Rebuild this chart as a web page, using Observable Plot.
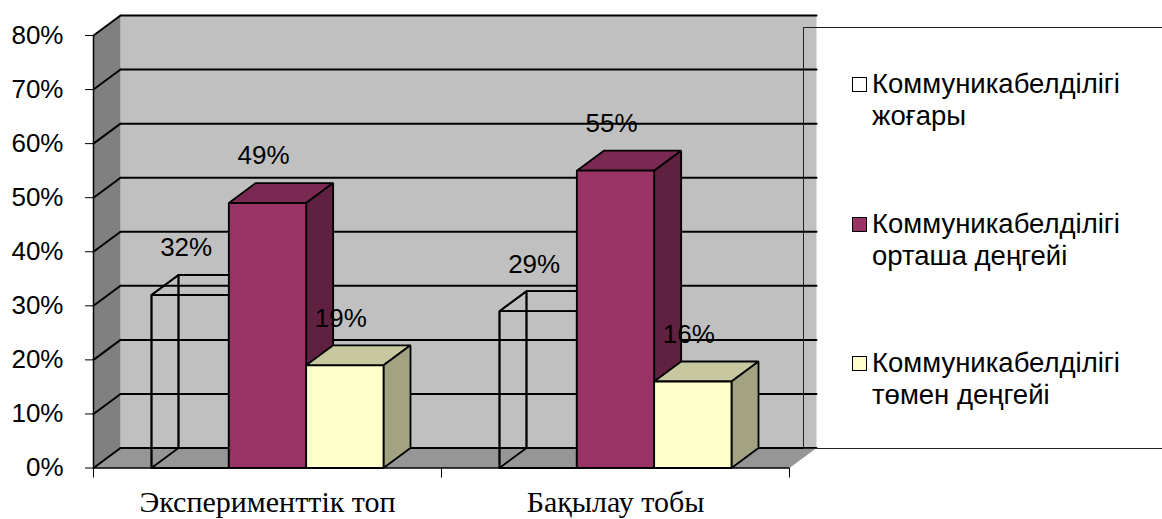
<!DOCTYPE html>
<html>
<head>
<meta charset="utf-8">
<script src="https://cdn.jsdelivr.net/npm/d3@7"></script>
<script src="https://cdn.jsdelivr.net/npm/@observablehq/plot@0.6"></script>
<style>
  html, body { margin: 0; padding: 0; background: #fff; }
  #wrap { position: relative; width: 1162px; height: 519px; overflow: hidden; }
  #legend { position: absolute; left: 803px; top: 27px; width: 370px; height: 420px;
            border-top: 1.5px solid #222; border-left: 1.5px solid #222; border-bottom: 1.5px solid #222;
            font-family: "Liberation Sans", Arial, sans-serif; font-size: 27.5px; line-height: 32px; color: #000; }
  .item { position: absolute; left: 68px; }
  .sw { position: absolute; left: -20px; top: 9px; width: 13px; height: 13px; border: 1.5px solid #000; }
</style>
</head>
<body>
<div id="wrap"><div id="legend"></div></div>
<script>
// ---- data ----
const categories = ["Эксперименттік топ", "Бақылау тобы"];
const seriesNames = ["Коммуникабелділігі жоғары", "Коммуникабелділігі орташа деңгейі", "Коммуникабелділігі төмен деңгейі"];
const legendLines = [["Коммуникабелділігі", "жоғары"], ["Коммуникабелділігі", "орташа деңгейі"], ["Коммуникабелділігі", "төмен деңгейі"]];
const highValues = [0.32, 0.29];
const midValues = [0.49, 0.55];
const lowValues = [0.19, 0.16];
const yTicks = [0, 0.1, 0.2, 0.3, 0.4, 0.5, 0.6, 0.7, 0.8];
const frontColors = ["none", "#993366", "#FFFFCC"];
const topColors = ["none", "#7A2952", "#C8C8A0"];
const sideColors = ["none", "#602040", "#A3A383"];
const swatchColors = ["#FFFFFF", "#993366", "#FFFFCC"];

// ---- layout ----
const W = 1162, H = 519;
const mL = 93, mR = 373, mT = 35, mB = 51.5;
const xMax = categories.length, yMax = 0.8;
const DX = 27 * xMax / (W - mL - mR);      // depth offset (27px) in x units
const DY = 20 * yMax / (H - mT - mB);      // depth offset (20px) in y units
const nS = seriesNames.length, gap = 1.5;
const bw = 1 / (nS + gap);

const values = [highValues, midValues, lowValues];

// walls
const walls = [];
function poly(arr, id, pts, fill) { pts.forEach(([x, y]) => arr.push({id, x, y, fill})); }
poly(walls, "back", [[DX, DY], [xMax + DX, DY], [xMax + DX, yMax + DY], [DX, yMax + DY], [DX, DY]], "#C0C0C0");
poly(walls, "side", [[0, 0], [DX, DY], [DX, yMax + DY], [0, yMax], [0, 0]], "#808080");
poly(walls, "floor", [[0, 0], [xMax, 0], [xMax + DX, DY], [DX, DY], [0, 0]], "#969696");

// grid lines (back wall + side wall)
const grid = [];
yTicks.forEach((t, k) => {
  grid.push({id: "b" + k, x: DX, y: t + DY}, {id: "b" + k, x: xMax + DX, y: t + DY});
  grid.push({id: "s" + k, x: 0, y: t}, {id: "s" + k, x: DX, y: t + DY});
});

// bars
const faces = [];
const labels = [];
categories.forEach((c, i) => {
  values.forEach((vals, s) => {
    const v = vals[i];
    const x0 = i + bw * gap / 2 + s * bw, x1 = x0 + bw;
    const id = c + s;
    if (frontColors[s] === "none") {
      poly(faces, id + "back", [[x0 + DX, DY], [x1 + DX, DY], [x1 + DX, v + DY], [x0 + DX, v + DY], [x0 + DX, DY]], "none");
      poly(faces, id + "left", [[x0, 0], [x0 + DX, DY], [x0 + DX, v + DY], [x0, v], [x0, 0]], "none");
    }
    poly(faces, id + "top", [[x0, v], [x1, v], [x1 + DX, v + DY], [x0 + DX, v + DY], [x0, v]], topColors[s]);
    poly(faces, id + "side", [[x1, 0], [x1 + DX, DY], [x1 + DX, v + DY], [x1, v], [x1, 0]], sideColors[s]);
    poly(faces, id + "front", [[x0, 0], [x1, 0], [x1, v], [x0, v], [x0, 0]], frontColors[s]);
    labels.push({x: (x0 + x1) / 2, y: v, text: Math.round(v * 100) + "%"});
  });
});

const catLabels = categories.map((c, i) => ({x: i + 0.5, y: 0, text: c}));

const chart = Plot.plot({
  width: W, height: H,
  marginLeft: mL, marginRight: mR, marginTop: mT, marginBottom: mB,
  x: {type: "linear", domain: [0, xMax], axis: null},
  y: {type: "linear", domain: [0, yMax], axis: null},
  color: {type: "identity"},
  style: {fontFamily: "'Liberation Sans', Arial, sans-serif", fontSize: "26px", background: "transparent", overflow: "visible"},
  marks: [
    Plot.line(walls, {x: "x", y: "y", z: "id", fill: "fill", stroke: null}),
    Plot.line(grid, {x: "x", y: "y", z: "id", stroke: "#000", strokeWidth: 2}),
    Plot.line(faces, {x: "x", y: "y", z: "id", fill: "fill", stroke: "#000", strokeWidth: 1.8, strokeLinejoin: "miter"}),
    Plot.ruleX([0], {stroke: "#000", strokeWidth: 1.5}),
    Plot.ruleY([0], {stroke: "#000", strokeWidth: 1.5}),
    Plot.axisY(yTicks, {tickFormat: d3.format(".0%"), tickSize: 8, tickPadding: 22, label: null, stroke: "#000", fill: "#000", fontSize: 26}),
    Plot.axisX([0, 1, 2], {tickSize: 10, tickFormat: () => "", label: null, stroke: "#000"}),
    Plot.text(labels, {x: "x", y: "y", text: "text", dx: -4, dy: -47, fontSize: 26, fill: "#000"}),
    Plot.text(catLabels, {x: "x", y: "y", text: "text", dy: 34, fontSize: 30, fontFamily: "'Liberation Serif', 'Times New Roman', serif", fill: "#000"})
  ]
});
const wrap = document.getElementById("wrap");
chart.style.position = "absolute";
chart.style.left = "0px";
chart.style.top = "0px";
wrap.insertBefore(chart, wrap.firstChild);

const legend = document.getElementById("legend");
legendLines.forEach((lines, k) => {
  const item = document.createElement("div");
  item.className = "item";
  item.style.top = (40 + k * 139.5) + "px";
  const sw = document.createElement("div");
  sw.className = "sw";
  sw.style.background = swatchColors[k];
  item.appendChild(sw);
  lines.forEach(t => { const d = document.createElement("div"); d.textContent = t; item.appendChild(d); });
  item.title = seriesNames[k];
  legend.appendChild(item);
});
</script>
</body>
</html>
